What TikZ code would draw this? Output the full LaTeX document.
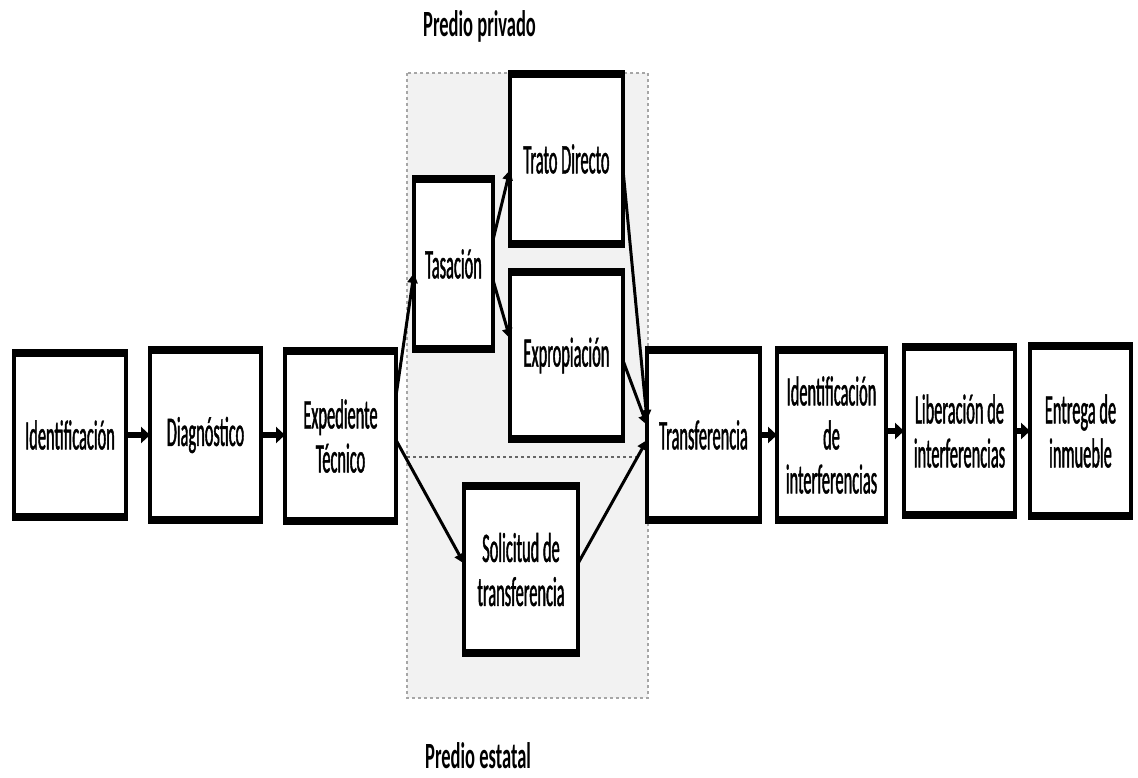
\documentclass[tikz,border=0pt]{standalone}
\usepackage{fontspec}
\usetikzlibrary{arrows.meta}
\newfontfamily\boxfont{Carlito}[FakeStretch=0.39,FakeBold=1]
\newfontfamily\labfont{Carlito}[FakeStretch=0.5]
\begin{document}
\begin{tikzpicture}[x=1pt,y=-1pt,
  stage/.style={draw, line width=4pt, fill=white, inner sep=0pt, outer sep=0pt,
    align=center, font=\boxfont\fontsize{42}{44}\selectfont},
  flow/.style={line width=6pt, -{Triangle[length=9pt,width=16pt]}},
  link/.style={line width=3pt, -{Triangle[length=10pt,width=10pt]}},
  region/.style={draw=gray!70, dashed, line width=1.2pt, fill=gray!10},
  divider/.style={draw=gray!80!black, dashed, line width=1.8pt},
  title/.style={font=\labfont\bfseries\fontsize{37}{40}\selectfont, inner sep=0pt, anchor=base west}]
\useasboundingbox[fill=white] (0,0) rectangle (1138,778);
% region
\path[region] (407,73) rectangle (648,698);
\coordinate (dl) at (407,457);
\coordinate (dr) at (640,457);
\draw[divider] (dl) -- (dr);
\node[title] (tp) at (423,37) {Predio privado};
\node[title] (te) at (425,768) {Predio estatal};
% boxes
\node[stage, minimum width=112pt, minimum height=168pt] (id) at (70,435) {Identificación};
\node[stage, minimum width=111pt, minimum height=174pt] (diag) at (205.5,435) {Diagnóstico};
\node[stage, minimum width=111pt, minimum height=174pt] (exp) at (340.5,436) {Expediente\\Técnico};
\node[stage, minimum width=79pt, minimum height=174pt] (tas) at (453.5,264) {Tasación};
\node[stage, minimum width=113pt, minimum height=174pt] (trato) at (566.5,159) {Trato Directo};
\node[stage, minimum width=113pt, minimum height=171pt] (expr) at (566.5,355.5) {Expropiación};
\node[stage, minimum width=114pt, minimum height=171pt] (sol) at (521,569.5) {Solicitud de\\transferencia};
\node[stage, minimum width=113pt, minimum height=174pt] (tras) at (703.5,435) {Transferencia};
\node[stage, minimum width=109pt, minimum height=174pt] (idint) at (831.5,435) {Identificación\\de\\interferencias};
\node[stage, minimum width=111pt, minimum height=172pt] (lib) at (959.5,431) {Liberación de\\interferencias};
\node[stage, minimum width=101pt, minimum height=174pt] (ent) at (1080.5,431) {Entrega de\\inmueble};
% thick top and bottom edges
\foreach \n in {id,diag,exp,tas,trato,expr,sol,tras,idint,lib,ent}{
  \fill ([shift={(-2pt,2pt)}]\n.north west) rectangle ([shift={(2pt,-6pt)}]\n.north east);
  \fill ([shift={(-2pt,-2pt)}]\n.south west) rectangle ([shift={(2pt,6pt)}]\n.south east);
}
% main flow arrows
\draw[flow] (id.east) -- (id.east -| diag.west);
\draw[flow] (diag.east) -- (diag.east -| exp.west);
\draw[flow] (tras.east) -- (tras.east -| idint.west);
\draw[flow] ([yshift=4pt]idint.east) -- ([yshift=4pt]idint.east -| lib.west);
\draw[flow] (lib.east) -- (lib.east -| ent.west);
% branch links
\draw[link] ([yshift=40pt]exp.east) -- ([yshift=-9pt]tas.west);
\draw[link] ([yshift=-4pt]exp.east) -- ([yshift=6pt]sol.west);
\draw[link] ([yshift=24pt]tas.east) -- ([yshift=-11pt]trato.west);
\draw[link] ([yshift=-16pt]tas.east) -- ([yshift=17pt]expr.west);
\draw[link] ([yshift=-11pt]trato.east) -- ([yshift=15pt]tras.west);
\draw[link] ([yshift=-5pt]expr.east) -- ([yshift=10pt]tras.west);
\draw[link] ([yshift=6pt]sol.east) -- ([yshift=-5pt]tras.west);
\end{tikzpicture}
\end{document}
